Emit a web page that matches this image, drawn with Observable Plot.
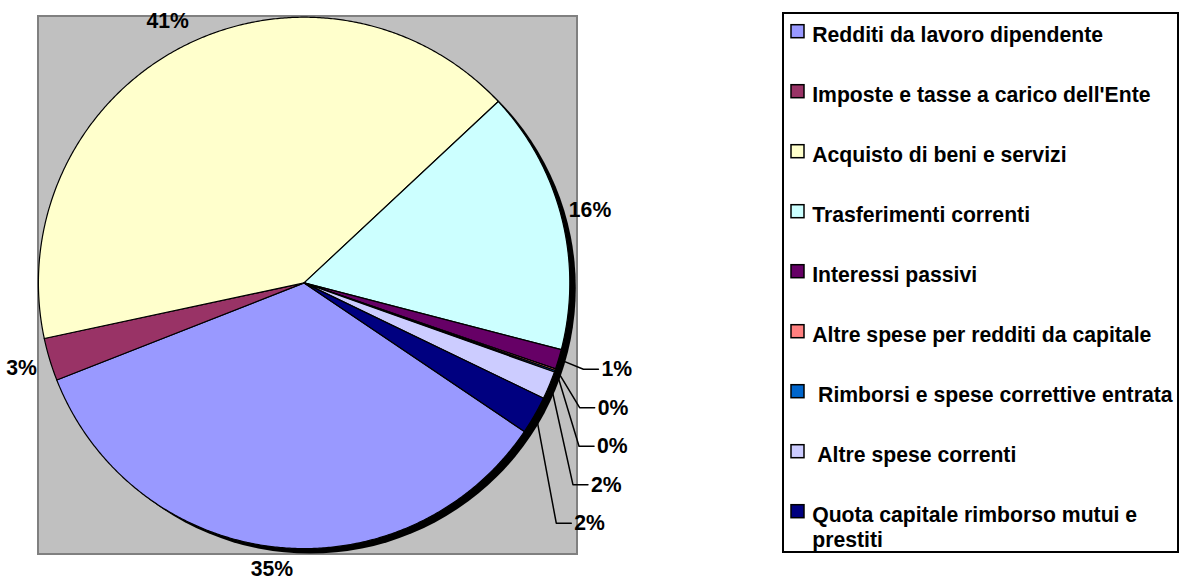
<!DOCTYPE html>
<html><head><meta charset="utf-8">
<script src="https://cdn.jsdelivr.net/npm/d3@7"></script>
<script src="https://cdn.jsdelivr.net/npm/@observablehq/plot@0.6"></script>
<style>
html,body{margin:0;padding:0;background:#fff;}
svg text{white-space:pre;}
</style></head><body><div id="chart"></div>
<script>
// ---- data ----
const categories = [
  "Redditi da lavoro dipendente",
  "Imposte e tasse a carico dell'Ente",
  "Acquisto di beni e servizi",
  "Trasferimenti correnti",
  "Interessi passivi",
  "Altre spese per redditi da capitale",
  " Rimborsi e spese correttive entrata",
  " Altre spese correnti",
  "Quota capitale rimborso mutui e\nprestiti"
];
const values = [34.6, 2.6, 41.4, 16.0, 1.2, 0.1, 0.1, 1.7, 2.3];
const colors = ["#9999FF","#993366","#FFFFCC","#CCFFFF","#660066","#FF8080","#0066CC","#CCCCFF","#000080"];

// ---- layout ----
const W = 1179, H = 584;
const cx = 303.6, cy = 282.4, R = 265.7, RL = 295;
const start = 124 * Math.PI / 180;
const FONT = "Liberation Sans, Arial, sans-serif";
const FS = 21.2;

const total = d3.sum(values);
const fmt = d3.format(".0%");
const arcs = d3.pie().sort(null).value(d => d).startAngle(start).endAngle(start + 2 * Math.PI)(values);
const px = (a, r) => cx + r * Math.sin(a);
const py = (a, r) => cy - r * Math.cos(a);

// slice polygons
const slicePts = [];
arcs.forEach((a, i) => {
  slicePts.push({i, x: cx, y: cy});
  const n = Math.max(1, Math.ceil((a.endAngle - a.startAngle) / (0.4 * Math.PI / 180)));
  for (let k = 0; k <= n; k++) {
    const t = a.startAngle + (a.endAngle - a.startAngle) * k / n;
    slicePts.push({i, x: px(t, R), y: py(t, R)});
  }
});

// labels
const lab = arcs.map((a, i) => {
  const m = (a.startAngle + a.endAngle) / 2;
  const small = values[i] < 2.5;
  const rl = small ? 300 : RL;
  return {i, m, norm: ((m % (2*Math.PI)) + 2*Math.PI) % (2*Math.PI), x: px(m, rl),
          y: Math.min(py(m, rl), H - 15),
          text: fmt(values[i] / total), small};
});
const right = lab.filter(d => d.norm < Math.PI).sort((a, b) => a.norm - b.norm);
let prev = -Infinity;
right.forEach(d => { d.y = Math.max(d.y, prev + 38.5); prev = d.y; });
const bigLabels = lab.filter(d => !d.small);
const smallLabels = lab.filter(d => d.small).map(d => ({...d, tx: d.x + 10}));
const leaderPts = [];
smallLabels.forEach(d => {
  leaderPts.push({i: d.i, x: px(d.m, R + 2), y: py(d.m, R + 2)});
  leaderPts.push({i: d.i, x: d.tx - 18, y: d.y});
  leaderPts.push({i: d.i, x: d.tx - 3, y: d.y});
});

// legend
const legend = categories.map((c, i) => ({i, c, y: 31.7 + 60 * i}));

const chart = Plot.plot({
  width: W, height: H,
  margin: 0,
  x: {domain: [0, W], range: [0, W], axis: null},
  y: {domain: [0, H], range: [0, H], axis: null},
  color: {type: "identity"},
  style: {fontFamily: FONT, background: "white"},
  marks: [
    Plot.rect([0], {x1: () => 38, x2: () => 577, y1: () => 16, y2: () => 554, fill: "#C0C0C0", stroke: "#808080", strokeWidth: 2}),
    Plot.dot([0], {x: () => cx + 6, y: () => cy + 5, r: R, fill: "black", stroke: "none"}),
    Plot.line(slicePts, {x: "x", y: "y", z: "i", fill: d => colors[d.i], stroke: "black", strokeWidth: 1.2, curve: "linear-closed", strokeLinejoin: "round"}),
    Plot.line(leaderPts, {x: "x", y: "y", z: "i", stroke: "black", strokeWidth: 1.5}),
    Plot.text(bigLabels, {x: "x", y: "y", text: "text", fontSize: FS, fontWeight: "bold", fontFamily: FONT, fill: "black", textAnchor: "middle"}),
    Plot.text(smallLabels, {x: "tx", y: "y", text: "text", fontSize: FS, fontWeight: "bold", fontFamily: FONT, fill: "black", textAnchor: "start"}),
    Plot.rect([0], {x1: () => 783, x2: () => 1178, y1: () => 13, y2: () => 552, fill: "white", stroke: "black", strokeWidth: 2}),
    Plot.rect(legend, {x1: () => 791, x2: () => 804, y1: d => d.y - 7, y2: d => d.y + 6, fill: d => colors[d.i], stroke: "black", strokeWidth: 1.5}),
    Plot.text(legend, {x: () => 811.7, y: d => d.y - 0.355 * FS, text: "c", lineAnchor: "top", lineHeight: 1.18, textAnchor: "start", fontSize: FS, fontWeight: "bold", fontFamily: FONT, fill: "black"})
  ]
});
document.getElementById("chart").appendChild(chart);
</script>
</body></html>
